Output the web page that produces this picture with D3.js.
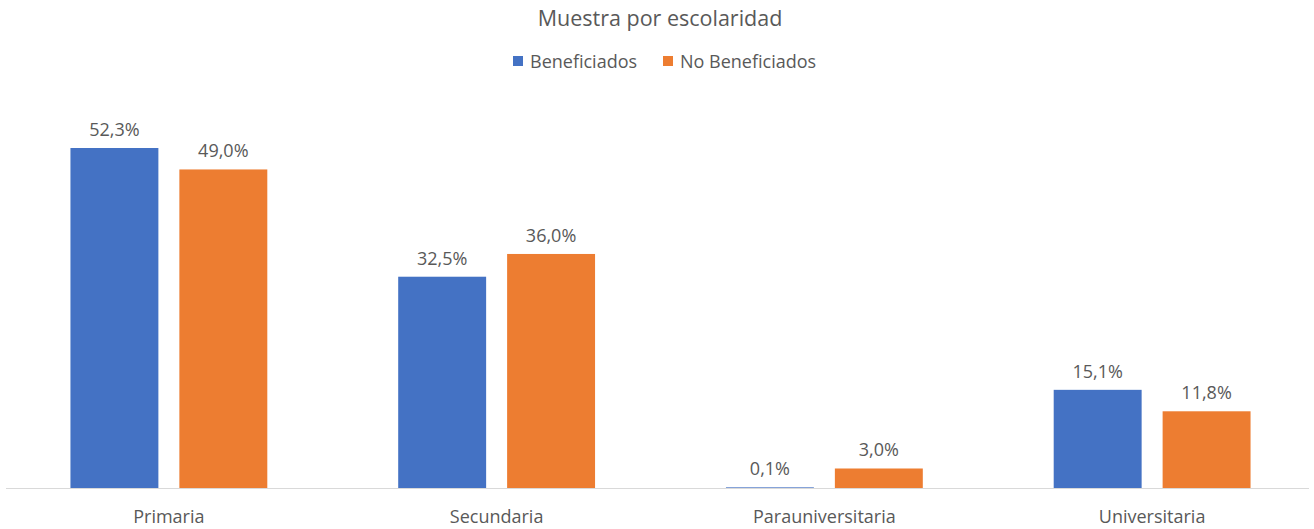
<!DOCTYPE html>
<html>
<head>
<meta charset="utf-8">
<script src="https://cdn.jsdelivr.net/npm/d3@7"></script>
<style>
  body { margin: 0; background: #fff; }
  text { font-family: "Open Sans", "Noto Sans", sans-serif; fill: #595959; }
</style>
</head>
<body>
<svg></svg>
<script>
const width = 1314;
const height = 529;

const categories = ['Primaria', 'Secundaria', 'Parauniversitaria', 'Universitaria'];
const seriesNames = ['Beneficiados', 'No Beneficiados'];
const beneficiados = [52.3, 32.5, 0.1, 15.1];
const noBeneficiados = [49.0, 36.0, 3.0, 11.8];
const colors = ['#4472c4', '#ed7d31'];

const svg = d3.select('svg').attr('width', width).attr('height', height);

const x = d3.scaleBand().domain(categories).range([5, 1316]).paddingInner(0).paddingOuter(0);
const x1 = d3.scaleBand().domain(seriesNames).range([0, x.bandwidth()])
    .paddingInner(21 / 109).paddingOuter(65.5 / 109);
const y = d3.scaleLinear().domain([0, 52.3]).range([488, 148]);

const fmt = v => v.toFixed(1).replace('.', ',') + '%';

const rows = categories.map((c, i) => ({cat: c, vals: [beneficiados[i], noBeneficiados[i]]}));

// title
svg.append('text')
    .attr('x', width / 2 + 3).attr('y', 17)
    .attr('text-anchor', 'middle').attr('dominant-baseline', 'central')
    .style('font-size', '21.5px')
    .text('Muestra por escolaridad');

// legend
const legend = svg.append('g');
const legendX = [513, 663];
seriesNames.forEach((s, i) => {
    legend.append('rect').attr('x', legendX[i]).attr('y', 56).attr('width', 10).attr('height', 10)
        .attr('fill', colors[i]);
    legend.append('text').attr('x', legendX[i] + 17).attr('y', 61)
        .attr('dominant-baseline', 'central').style('font-size', '18px').text(s);
});

// bars
const groups = svg.append('g').selectAll('g')
    .data(rows).enter().append('g')
    .attr('transform', d => `translate(${x(d.cat)},0)`);

groups.selectAll('rect')
    .data(d => d.vals.map((v, j) => ({name: seriesNames[j], v, j})))
    .enter().append('rect')
    .attr('x', d => x1(d.name))
    .attr('width', x1.bandwidth())
    .attr('y', d => y(d.v))
    .attr('height', d => y(0) - y(d.v))
    .attr('fill', d => colors[d.j]);

groups.selectAll('text.val')
    .data(d => d.vals.map((v, j) => ({name: seriesNames[j], v, j})))
    .enter().append('text')
    .attr('class', 'val')
    .attr('x', d => x1(d.name) + x1.bandwidth() / 2)
    .attr('y', d => y(d.v) - 19)
    .attr('text-anchor', 'middle').attr('dominant-baseline', 'central')
    .style('font-size', '18px')
    .text(d => fmt(d.v));

// axis
svg.append('line')
    .attr('x1', 6).attr('x2', 1309)
    .attr('y1', y(0) + 0.5).attr('y2', y(0) + 0.5)
    .attr('stroke', '#d9d9d9').attr('stroke-width', 1);

svg.append('g').selectAll('text')
    .data(categories).enter().append('text')
    .attr('x', d => x(d) + x.bandwidth() / 2)
    .attr('y', 516)
    .attr('text-anchor', 'middle').attr('dominant-baseline', 'central')
    .style('font-size', '18px')
    .text(d => d);
</script>
</body>
</html>
